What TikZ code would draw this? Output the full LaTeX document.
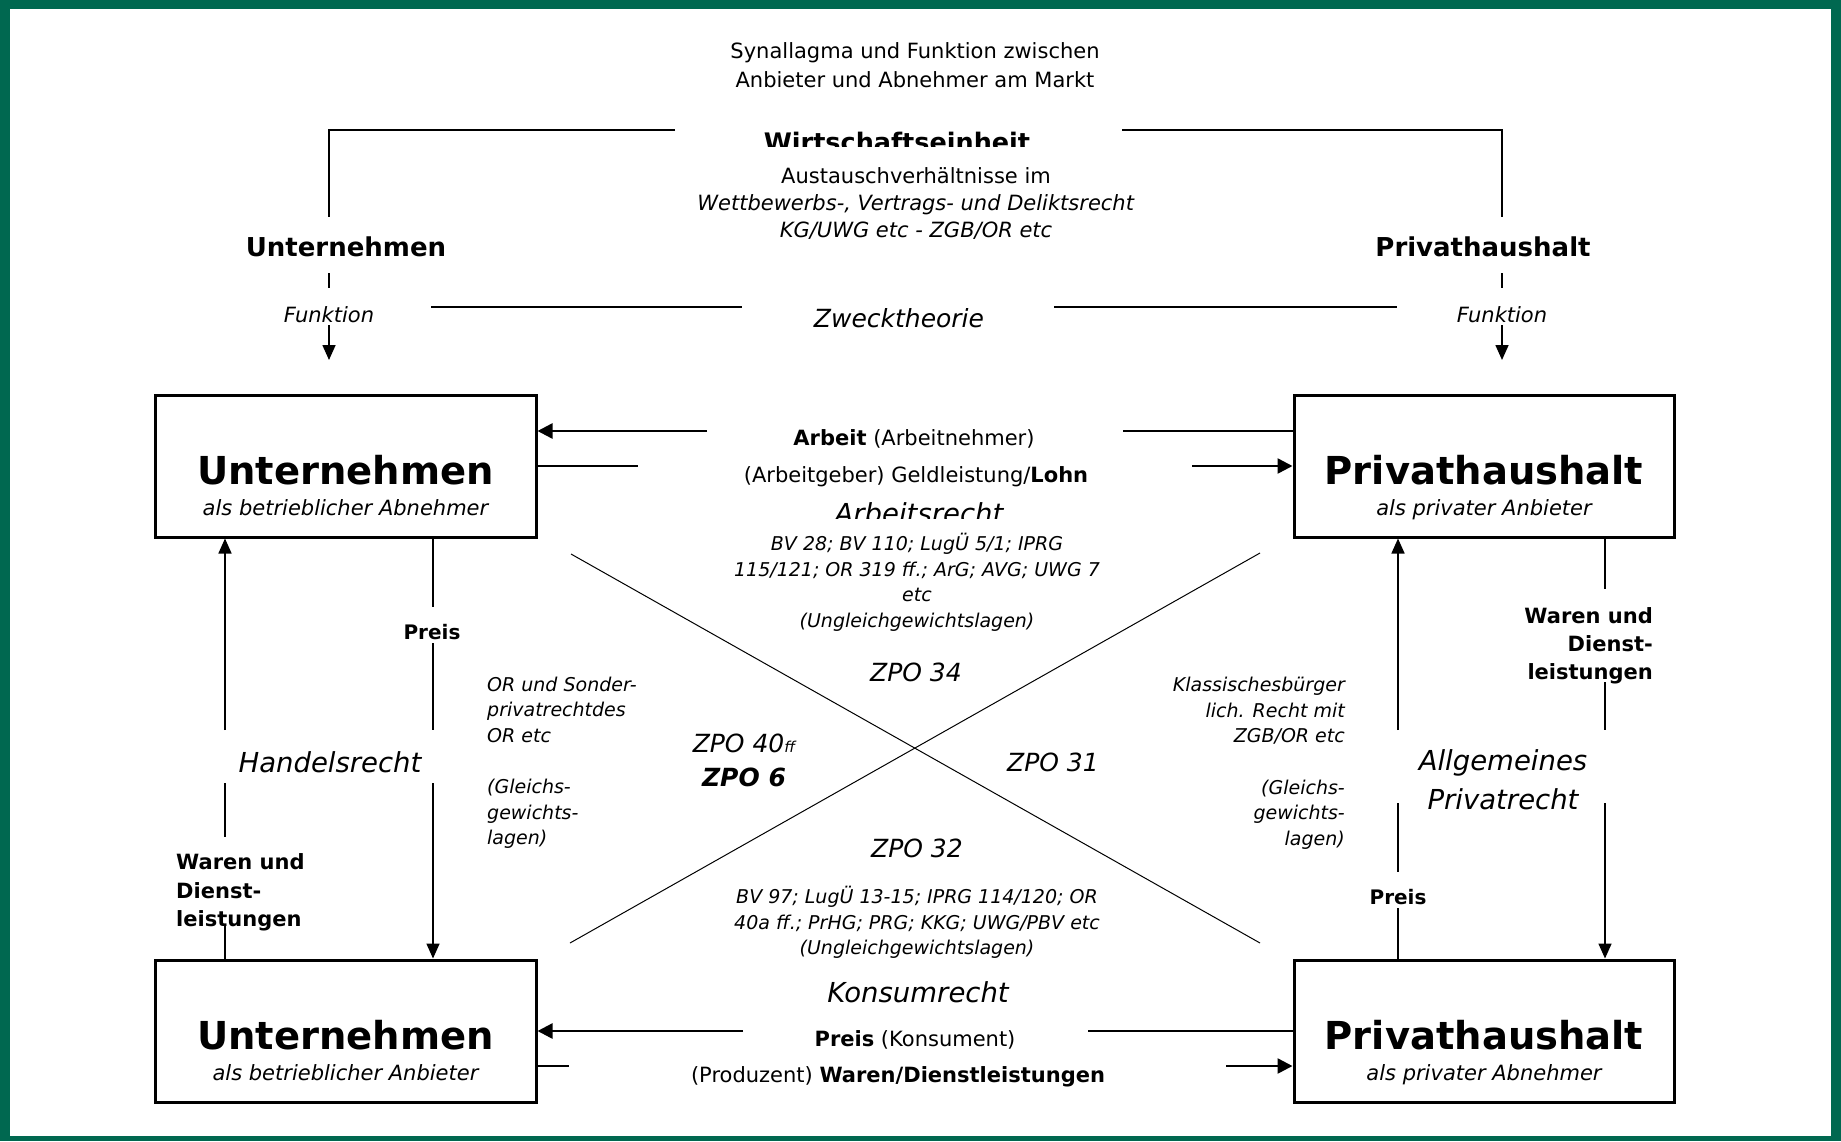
\documentclass[tikz,border=0pt]{standalone}
\usepackage{fontspec}
\setmainfont{DejaVu Sans}
\usetikzlibrary{arrows.meta}

\definecolor{rahmen}{RGB}{0,104,80}
\newcommand{\fsz}[2]{\fontsize{#1}{#2}\selectfont}
\newcommand{\topstrut}{\rule{0pt}{.95em}}

\begin{document}
\begin{tikzpicture}[x=1pt,y=-1pt,
        box/.style={draw, line width=3pt, minimum width=381pt, minimum height=142pt, inner sep=0pt},
        txt/.style={inner sep=0pt, anchor=base},
        btitle/.style={txt, font=\bfseries\fsz{38.5}{40}},
        bsub/.style={txt, font=\itshape\fsz{21}{25}},
        norm/.style={txt, font=\fsz{21}{25}},
        fett/.style={txt, font=\bfseries\fsz{21}{28.5}},
        klein/.style={inner sep=0pt, font=\itshape\fsz{19}{25.5}},
        gross/.style={txt, font=\itshape\fsz{27.5}{39}},
        zpo/.style={txt, font=\itshape\fsz{25}{30}},
        vline/.style={line width=1.6pt},
        varrow/.style={vline, -{Triangle[length=15pt,width=13pt]}},
        hline/.style={line width=2.5pt},
        harrow/.style={hline, -{Triangle[length=15pt,width=15pt]}},
        diag/.style={line width=1pt}]
        \useasboundingbox (0,0) rectangle (1841,1141);
        \fill [rahmen] (0,0) rectangle (1841,1141);
        \fill [white] (10,9) rectangle (1831,1136);

        % Kopf
        \node [txt, anchor=north, align=center, font=\fsz{21}{28.5}] (titel) at (915,38.5) {\topstrut Synallagma und Funktion zwischen\\Anbieter und Abnehmer am Markt};
        \begin{scope}
            \clip (700,100) rectangle (1100,146.5);
            \node [txt, font=\bfseries\fsz{25.5}{30}] (wirt) at (897,151.5) {Wirtschaftseinheit};
        \end{scope}
        \node [txt, anchor=north, align=center, font=\fsz{21}{27.3}] (aust) at (916,163.2) {\topstrut Austauschverhältnisse im\\\textit{Wettbewerbs-, Vertrags- und Deliktsrecht}\\\textit{KG/UWG etc - ZGB/OR etc}};

        \node [txt, font=\bfseries\fsz{26}{30}] (lu) at (346,256.5) {Unternehmen};
        \node [txt, font=\bfseries\fsz{26}{30}] (lp) at (1483,256.5) {Privathaushalt};
        \coordinate (wl) at (675,130);
        \coordinate (wr) at (1122,130);
        \coordinate (bl) at (329,217);
        \coordinate (br) at (1502,217);
        \draw [line width=2pt] (wl) -| (bl);
        \draw [line width=2pt] (wr) -| (br);

        \node [txt, font=\itshape\fsz{21}{25}] (fu) at (329,322.7) {Funktion};
        \node [txt, font=\itshape\fsz{21}{25}] (fp) at (1502,322.7) {Funktion};
        \coordinate (fu1) at (329,273);
        \coordinate (fu2) at (329,288);
        \coordinate (fu3) at (329,360);
        \coordinate (fp1) at (1502,273);
        \coordinate (fp2) at (1502,288);
        \coordinate (fp3) at (1502,360);
        \draw [vline] (fu1) -- (fu2);
        \draw [vline] (fp1) -- (fp2);
        \draw [varrow] ([yshift=-2.3pt]fu.base) -- (fu3);
        \draw [varrow] ([yshift=-2.3pt]fp.base) -- (fp3);

        \node [txt, font=\itshape\fsz{25}{30}] (zw) at (899,327) {Zwecktheorie};
        \coordinate (zl1) at (431,307);
        \coordinate (zl2) at (742,307);
        \coordinate (zr1) at (1054,307);
        \coordinate (zr2) at (1397,307);
        \draw [line width=1.2pt] (zl1) -- (zl2);
        \draw [line width=1.2pt] (zr1) -- (zr2);

        % Kaesten
        \node [box] (ua) at (345.5,466) {};
        \node [btitle] (ua-t) at ([yshift=-18.5pt]ua.center) {Unternehmen};
        \node [bsub] (ua-s) at ([yshift=-49.7pt]ua.center) {als betrieblicher Abnehmer};
        \node [box, minimum width=380pt] (pa) at (1484,466) {};
        \node [btitle] (pa-t) at ([yshift=-18.5pt]pa.center) {Privathaushalt};
        \node [bsub] (pa-s) at ([yshift=-49.7pt]pa.center) {als privater Anbieter};
        \node [box] (ub) at (345.5,1031) {};
        \node [btitle] (ub-t) at ([yshift=-18.5pt]ub.center) {Unternehmen};
        \node [bsub] (ub-s) at ([yshift=-49.7pt]ub.center) {als betrieblicher Anbieter};
        \node [box, minimum width=380pt] (pb) at (1484,1031) {};
        \node [btitle] (pb-t) at ([yshift=-18.5pt]pb.center) {Privathaushalt};
        \node [bsub] (pb-s) at ([yshift=-49.7pt]pb.center) {als privater Abnehmer};

        % Arbeit
        \coordinate (a1) at (707,431);
        \coordinate (a1r) at (1123,431);
        \coordinate (a2) at (638,466);
        \coordinate (a2r) at (1192,466);
        \draw [harrow] (a1) -- (a1 -| ua.east);
        \draw [hline] (a1r) -- (a1r -| pa.west);
        \draw [hline] (ua.east) -- (a2);
        \draw [harrow] (a2r) -- (pa.west);
        \node [norm] (arb1) at (914,445.7) {\textbf{Arbeit} (Arbeitnehmer)};
        \node [norm] (arb2) at (916,482.7) {(Arbeitgeber) Geldleistung/\textbf{Lohn}};
        \begin{scope}
            \clip (780,490) rectangle (1060,518);
            \node [gross] (arbr) at (919,523) {Arbeitsrecht};
        \end{scope}
        \node [klein, anchor=north, align=center] (arbg) at (917,532.6) {\topstrut BV 28; BV 110; LugÜ 5/1; IPRG\\115/121; OR 319 ff.; ArG; AVG; UWG 7\\etc\\(Ungleichgewichtslagen)};

        % Kreuz
        \coordinate (d1a) at (571,554);
        \coordinate (d1b) at (1260,943);
        \coordinate (d2a) at (1260,553);
        \coordinate (d2b) at (570,943);
        \draw [diag] (d1a) -- (d1b);
        \draw [diag] (d2a) -- (d2b);
        \node [zpo] (z34) at (916,681) {ZPO 34};
        \node [zpo] (z40) at (744,752) {ZPO 40{\fsz{15}{15}ff}};
        \node [zpo, font=\bfseries\itshape\fsz{25}{30}] (z6) at (744,786) {ZPO 6};
        \node [zpo] (z31) at (1053,771) {ZPO 31};
        \node [zpo] (z32) at (917,857) {ZPO 32};
        \node [klein, anchor=north, align=center] (kong) at (917,885.6) {\topstrut BV 97; LugÜ 13-15; IPRG 114/120; OR\\40a ff.; PrHG; PRG; KKG; UWG/PBV etc\\(Ungleichgewichtslagen)};

        % Konsum
        \node [gross] (kons) at (918,1002) {Konsumrecht};
        \coordinate (b1) at (743,1031);
        \coordinate (b1r) at (1088,1031);
        \coordinate (b2) at (569,1066);
        \coordinate (b2r) at (1226,1066);
        \draw [harrow] (b1) -- (ub.east);
        \draw [hline] (b1r) -- (pb.west);
        \draw [hline] (b2 -| ub.east) -- (b2);
        \draw [harrow] (b2r) -- (b2r -| pb.west);
        \node [norm] (pk) at (915,1046.7) {\textbf{Preis} (Konsument)};
        \node [norm] (pw) at (898,1082.7) {(Produzent) \textbf{Waren/Dienstleistungen}};

        % links
        \coordinate (l1) at (225,730);
        \coordinate (l2) at (225,783);
        \coordinate (l3) at (225,837);
        \coordinate (l4) at (225,925);
        \coordinate (r1) at (433,607);
        \coordinate (r2) at (433,643);
        \coordinate (r3) at (433,730);
        \coordinate (r4) at (433,783);
        \draw [varrow] (l1) -- (l1 |- ua.south);
        \draw [vline] (l2) -- (l3);
        \draw [vline] (l4) -- (l4 |- ub.north);
        \draw [vline] (r1 |- ua.south) -- (r1);
        \draw [vline] (r2) -- (r3);
        \draw [varrow] (r4) -- (r4 |- ub.north);
        \node [txt, font=\bfseries\fsz{20}{24}] (preisl) at (432,639.3) {Preis};
        \node [gross] (hand) at (330,772) {Handelsrecht};
        \node [fett, anchor=north west, align=left] (warl) at (176,849.7) {\topstrut Waren und\\Dienst-\\leistungen};
        \node [klein, anchor=north west, align=left] (orl) at (487,672.9) {\topstrut OR und Sonder-\\privatrechtdes\\OR etc\\[26.3pt](Gleichs-\\gewichts-\\lagen)};

        % rechts
        \coordinate (p1) at (1398,730);
        \coordinate (p2) at (1398,803);
        \coordinate (p3) at (1398,872);
        \coordinate (p4) at (1398,908);
        \coordinate (q1) at (1605,589);
        \coordinate (q2) at (1605,682);
        \coordinate (q3) at (1605,730);
        \coordinate (q4) at (1605,803);
        \draw [varrow] (p1) -- (p1 |- pa.south);
        \draw [vline] (p2) -- (p3);
        \draw [vline] (p4) -- (p4 |- pb.north);
        \draw [vline] (q1 |- pa.south) -- (q1);
        \draw [vline] (q2) -- (q3);
        \draw [varrow] (q4) -- (q4 |- pb.north);
        \node [txt, font=\bfseries\fsz{20}{24}] (preisr) at (1398,904.3) {Preis};
        \node [gross, anchor=north, align=center] (allg) at (1503,743.9) {\topstrut Allgemeines\\Privatrecht};
        \node [fett, anchor=north east, align=right, font=\bfseries\fsz{21}{28.3}] (warr) at (1653,603) {\topstrut Waren und\\Dienst-\\leistungen};
        \node [klein, anchor=north east, align=right] (klass) at (1345,673.6) {\topstrut Klassischesbürger\\lich. Recht mit\\ZGB/OR etc\\[25.8pt](Gleichs-\\gewichts-\\lagen)};
    \end{tikzpicture}
\end{document}
